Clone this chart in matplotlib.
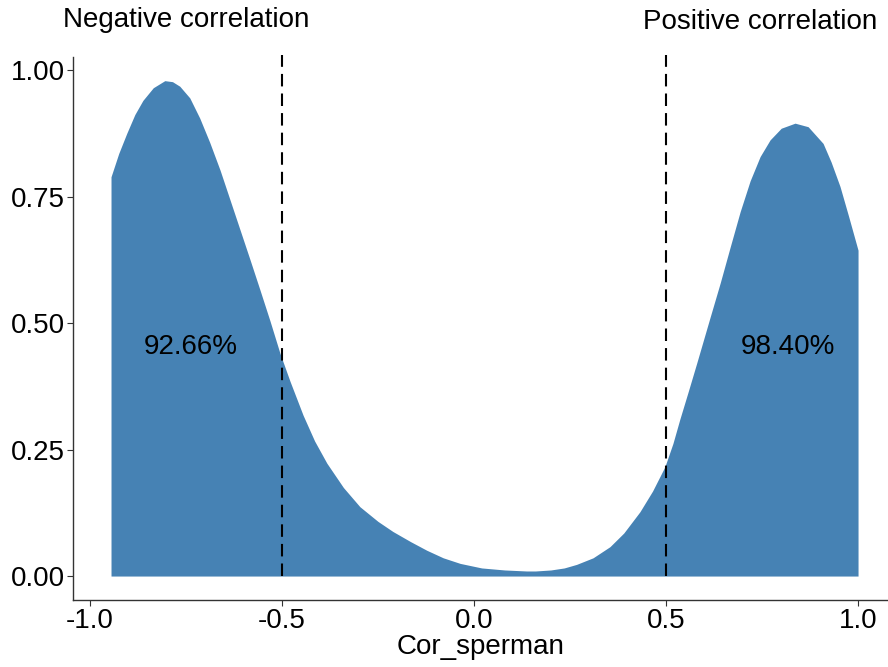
import matplotlib.pyplot as plt
import numpy as np

# density of Spearman correlation
cor = [-0.945, -0.925, -0.904, -0.883, -0.862, -0.835, -0.805, -0.785, -0.766,
       -0.74, -0.714, -0.688, -0.661, -0.635, -0.609, -0.583, -0.557, -0.531,
       -0.505, -0.479, -0.445, -0.415, -0.383, -0.34, -0.297, -0.25,
       -0.211, -0.165, -0.123, -0.08, -0.036, 0.02, 0.08, 0.137, 0.16, 0.2,
       0.235, 0.267, 0.31, 0.354, 0.39, 0.432, 0.465, 0.497, 0.518,
       0.536, 0.558, 0.58, 0.615, 0.641, 0.667, 0.693, 0.719, 0.745, 0.771,
       0.8, 0.836, 0.87, 0.909, 0.93, 0.953, 0.975, 1.0]
dens = [0.789, 0.835, 0.875, 0.912, 0.94, 0.965, 0.979, 0.977, 0.968,
        0.945, 0.905, 0.857, 0.802, 0.743, 0.684, 0.625, 0.565, 0.504,
        0.44, 0.385, 0.318, 0.267, 0.223, 0.175, 0.137, 0.108,
        0.088, 0.068, 0.051, 0.036, 0.025, 0.016, 0.012, 0.010, 0.010, 0.012,
        0.016, 0.023, 0.036, 0.058, 0.085, 0.127, 0.168, 0.216, 0.262,
        0.31, 0.365, 0.421, 0.512, 0.579, 0.65, 0.72, 0.781, 0.829, 0.862,
        0.885, 0.895, 0.888, 0.855, 0.818, 0.77, 0.712, 0.644]

cutoffs = [-0.5, 0.5]
pct_labels = ["92.66%", "98.40%"]
pct_x = [-0.737, 0.818]
pct_y = [0.453, 0.453]
xticks = [-1.0, -0.5, 0.0, 0.5, 1.0]
yticks = [0.0, 0.25, 0.5, 0.75, 1.0]

plt.rcParams['font.family'] = ['Liberation Sans', 'DejaVu Sans']

fig = plt.figure(figsize=(8.88, 6.67), dpi=100)
ax = fig.add_axes([0.0822, 0.1004, 0.9178, 0.8141])

ax.fill_between(cor, 0, dens, color='#4682B4', linewidth=0)

ax.set_xlim(-1.044, 1.078)
ax.set_ylim(-0.0474, 1.0257)

for c in cutoffs:
    ln, = ax.plot([c, c], [0, 1.03], color='black', linewidth=1.5, clip_on=False)
    ln.set_dashes((6, 3.4))

for lab, x, y in zip(pct_labels, pct_x, pct_y):
    ax.text(x, y, lab, ha='center', va='center', fontsize=20, color='black')

ax.set_xticks(xticks)
ax.set_xticklabels([f"{t:.1f}" for t in xticks])
ax.set_yticks(yticks)
ax.set_yticklabels([f"{t:.2f}" for t in yticks])
ax.tick_params(labelsize=20, length=4, width=0.8, pad=2, color='#333333', labelcolor='black')
ax.set_xlabel("Cor_sperman", fontsize=20, labelpad=0)

for s in ['top', 'right']:
    ax.spines[s].set_visible(False)
for s in ['left', 'bottom']:
    ax.spines[s].set_color('#333333')
    ax.spines[s].set_linewidth(1.0)

fig.text(186 / 888, 1 - 20 / 667, "Negative correlation", ha='center', va='center', fontsize=20)
fig.text(760 / 888, 1 - 22 / 667, "Positive correlation", ha='center', va='center', fontsize=20)

fig.savefig("out.png", dpi=100)
